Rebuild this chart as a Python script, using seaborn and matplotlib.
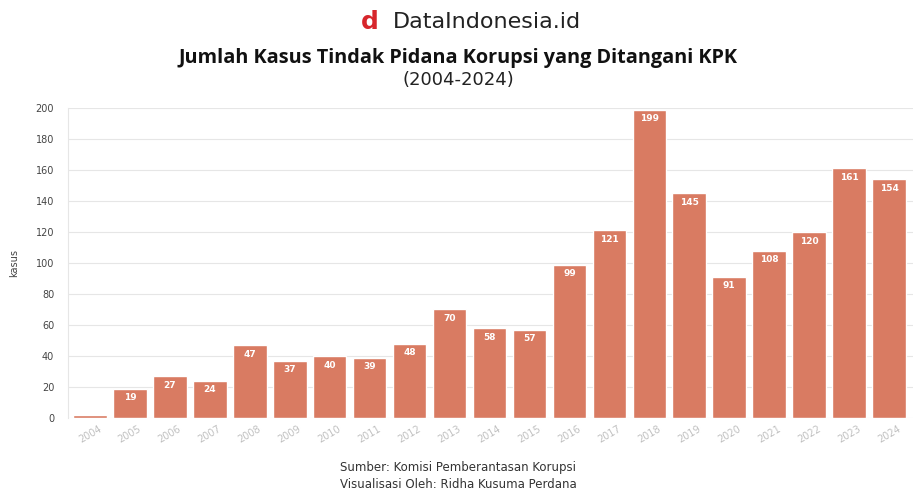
import pandas as pd
import seaborn as sns
import matplotlib
matplotlib.use('Agg')
import matplotlib.pyplot as plt

years = [str(y) for y in range(2004, 2025)]
kasus = [2, 19, 27, 24, 47, 37, 40, 39, 48, 70, 58, 57, 99, 121, 199, 145, 91, 108, 120, 161, 154]

df = pd.DataFrame({'tahun': years, 'kasus': kasus})

sns.set_style('white')
plt.rcParams['font.family'] = ['DejaVu Sans']

fig = plt.figure(figsize=(9.13, 4.91), dpi=100)
ax = fig.add_axes([0.0745, 0.1487, 0.9255, 0.6313])

bar_color = '#D97B62'
sns.barplot(data=df, x='tahun', y='kasus', color=bar_color, width=0.84,
            saturation=1, ax=ax)

ax.set_ylim(0, 200)
ax.set_xlim(-0.55, len(years) - 0.4)
ax.set_yticks(range(0, 201, 20))
ax.yaxis.grid(True, color='#e6e6e6', linewidth=0.8)
ax.set_axisbelow(True)
for side in ['top', 'right', 'bottom']:
    ax.spines[side].set_visible(False)
ax.spines['left'].set_color('#e6e6e6')
ax.tick_params(axis='y', labelsize=7, colors='#444444', length=0, pad=10)
ax.tick_params(axis='x', labelsize=7, colors='#c0c0c0', length=0, pad=4)
for lbl in ax.get_xticklabels():
    lbl.set_rotation(30)
    lbl.set_ha('center')
ax.set_xlabel('')
ax.set_ylabel('kasus', fontsize=7, color='#444444', labelpad=12)

# value labels inside the bars
for i, v in enumerate(kasus):
    if v < 10:
        continue
    ax.annotate(str(v), (i, v), xytext=(0, -6.5), textcoords='offset points',
                ha='center', va='center', color='white', fontsize=6.5,
                fontweight='bold')

# header
fig.text(0.405, 0.955, 'd', color='#D7262C', fontsize=18, fontweight='bold',
         ha='center', va='center')
fig.text(0.533, 0.955, 'DataIndonesia.id', color='#222222', fontsize=16,
         ha='center', va='center')
fig.text(0.502, 0.882, 'Jumlah Kasus Tindak Pidana Korupsi yang Ditangani KPK',
         color='#111111', fontsize=14.3, fontweight='bold', ha='center', va='center',
         family='Open Sans')
fig.text(0.502, 0.838, '(2004-2024)', color='#222222', fontsize=13,
         ha='center', va='center')

# footer
fig.text(0.372, 0.0305, 'Sumber: Komisi Pemberantasan Korupsi\nVisualisasi Oleh: Ridha Kusuma Perdana',
         color='#333333', fontsize=8.5, ha='left', va='center', linespacing=1.35)

fig.savefig('out.png', dpi=100)
plt.close(fig)
